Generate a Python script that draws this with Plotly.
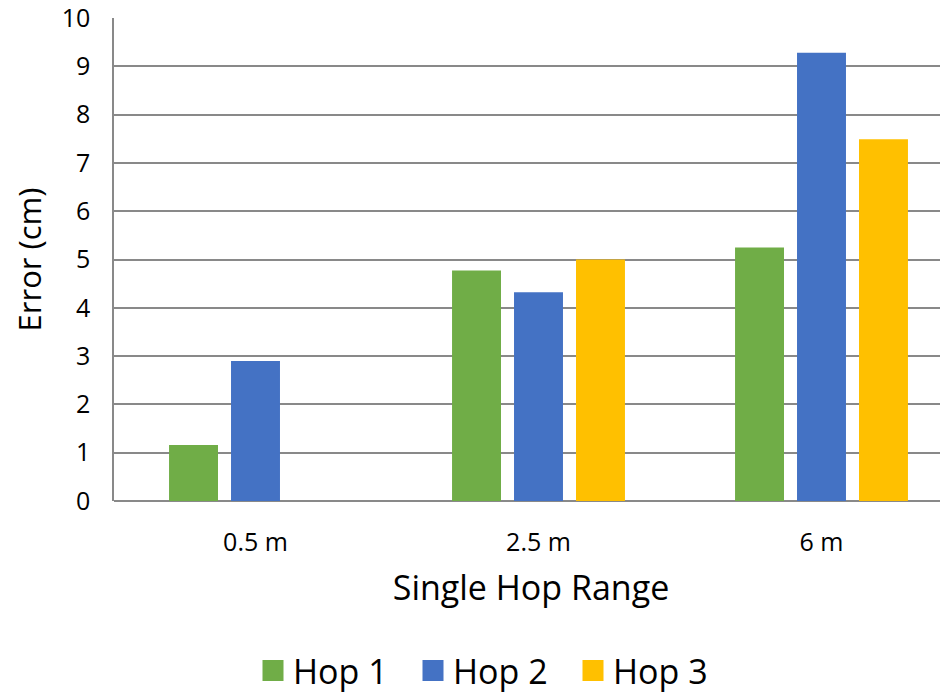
import plotly.graph_objects as go

categories = ["0.5 m", "2.5 m", "6 m"]
hop1 = [1.16, 4.77, 5.25]
hop2 = [2.90, 4.32, 9.28]
hop3 = [None, 5.0, 7.49]
series_names = ["Hop 1", "Hop 2", "Hop 3"]
colors = ["#70AD47", "#4472C4", "#FFC000"]
y_ticks = list(range(0, 11))

FONT = "Open Sans, sans-serif"

fig = go.Figure()
for name, vals, col in zip(series_names, [hop1, hop2, hop3], colors):
    fig.add_trace(go.Bar(x=categories, y=vals, name=name, marker_color=col,
                         marker_line_width=0, showlegend=False))
for name, col in zip(series_names, colors):
    fig.add_trace(go.Scatter(x=[None], y=[None], mode="markers", name=name,
                             marker=dict(symbol="square", size=16, color=col,
                                         line=dict(width=6, color=col)),
                             showlegend=True))

fig.update_layout(
    width=940, height=686,
    margin=dict(l=106, r=0, t=10, b=193, pad=0),
    plot_bgcolor="white", paper_bgcolor="white",
    barmode="group", bargap=0.343, bargroupgap=0.21,
    font=dict(family=FONT, color="#000000"),
    showlegend=True,
    legend=dict(orientation="h", x=(253 - 114) / 834, xanchor="left",
                yref="container", y=1 - 663 / 686, yanchor="middle",
                font=dict(size=34, family=FONT), itemwidth=30, tracegroupgap=0,
                entrywidth=115, entrywidthmode="pixels"),
    xaxis=dict(range=[-0.5, 2.447], showgrid=False, showline=False, zeroline=False,
               automargin=False,
               ticks="outside", ticklen=19, tickcolor="rgba(0,0,0,0)",
               tickfont=dict(size=25, family=FONT),
               title=dict(text="Single Hop Range", font=dict(size=34, family=FONT), standoff=19)),
    yaxis=dict(range=[0, 10], tickvals=y_ticks, showgrid=True, gridcolor="#898989", gridwidth=1.5,
               zeroline=True, zerolinecolor="#898989", zerolinewidth=1.5,
               showline=True, linecolor="#898989", linewidth=1.5,
               automargin=False, ticklabeloverflow="allow",
               ticks="outside", ticklen=17, tickcolor="rgba(0,0,0,0)",
               tickfont=dict(size=25, family=FONT),
               title=dict(text="Error (cm)", font=dict(size=31, family=FONT), standoff=17)),
)

fig.write_html("out.html")
